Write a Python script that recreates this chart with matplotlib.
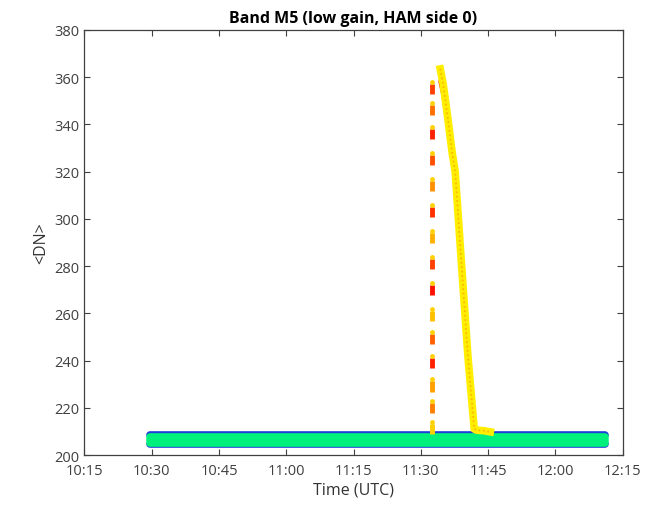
import matplotlib
matplotlib.use('Agg')
import matplotlib.pyplot as plt
import matplotlib.dates as mdates
import pandas as pd

plt.rcParams['font.family'] = ['Open Sans', 'DejaVu Sans']

# detector traces sitting at the baseline (level in DN, colour)
base_start = '10:29:35'
base_end = '12:11:10'
base_levels = [208.6, 204.7, 205.0, 206.5, 207.6]
base_colors = ['#1f3fd8', '#1f3fd8', '#00f07c', '#00f07c', '#00f07c']

# fast rise, sampled sparsely (the dotted column)
rise_t = ['11:32:30'] * 15
rise_dn = [211, 220, 229, 239, 249, 259, 270, 281, 292, 303, 314, 325, 336, 346, 355]
rise_c = ['#ffd000', '#ff8000', '#ffa000', '#ff2000', '#ff6000', '#ffc000', '#ff1000',
          '#ff4000', '#ffb000', '#ff3000', '#ff9000', '#ff5000', '#ff2000', '#ff7000', '#ff4000']

# decay after the peak
fall_t = ['11:34:20', '11:35:00', '11:36:00', '11:37:00', '11:37:40', '11:39:00',
          '11:40:30', '11:41:55', '11:42:30', '11:44:00', '11:45:30']
fall_dn = [363.5, 357, 343, 328, 320, 283, 242, 211, 210.5, 210.3, 209.8]
fall_red_dn = [358, 352, 339, 324, 316, 279, 238, 210.5, 210.4, 210.3, 209.8]

day = '2017-01-01 '
to_dt = lambda ts: pd.to_datetime([day + t for t in ts])

fig = plt.figure(figsize=(6.57, 5.06), dpi=100)
ax = fig.add_axes([0.1286, 0.0988, 0.819, 0.840])

t0, t1 = to_dt([base_start, base_end])
for lev, col in zip(base_levels, base_colors):
    ax.plot([t0, t1], [lev, lev], color=col, lw=5.5, solid_capstyle='round', zorder=2)

ax.plot(to_dt(fall_t), fall_red_dn, color='#ff2000', lw=2.5, zorder=3)
ax.plot(to_dt(fall_t), fall_dn, color='#ffee00', lw=5.5, zorder=4)
ax.plot(to_dt(fall_t), fall_dn, color='#ffb000', lw=1.2, ls=':', zorder=5)
ax.scatter(to_dt(rise_t), rise_dn, c=rise_c, s=55, marker='|', linewidths=3.5, zorder=4)
ax.scatter(to_dt(rise_t), [d + 3 for d in rise_dn], c='#ffd000', s=12, zorder=4, linewidths=0)

ax.set_xlim(to_dt(['10:15', '12:15']))
ax.set_ylim(200, 380)
ax.set_yticks(range(200, 381, 20))
ax.xaxis.set_major_locator(mdates.MinuteLocator(byminute=[0, 15, 30, 45]))
ax.xaxis.set_major_formatter(mdates.DateFormatter('%H:%M'))
ax.tick_params(direction='in', top=True, right=True, length=4, width=0.8,
               labelsize=10.5, labelcolor='#404040', color='#404040')
ax.tick_params(axis='x', pad=6)
for s in ax.spines.values():
    s.set_color('#404040')
    s.set_linewidth(0.9)

ax.set_xlabel('Time (UTC)', fontsize=11.5, color='#333333', labelpad=2)
ax.set_ylabel('<DN>', fontsize=11.5, color='#333333')
ax.set_title('Band M5 (low gain, HAM side 0)', fontsize=11.5, fontweight='bold', pad=6)

fig.savefig('out.png', dpi=100)
